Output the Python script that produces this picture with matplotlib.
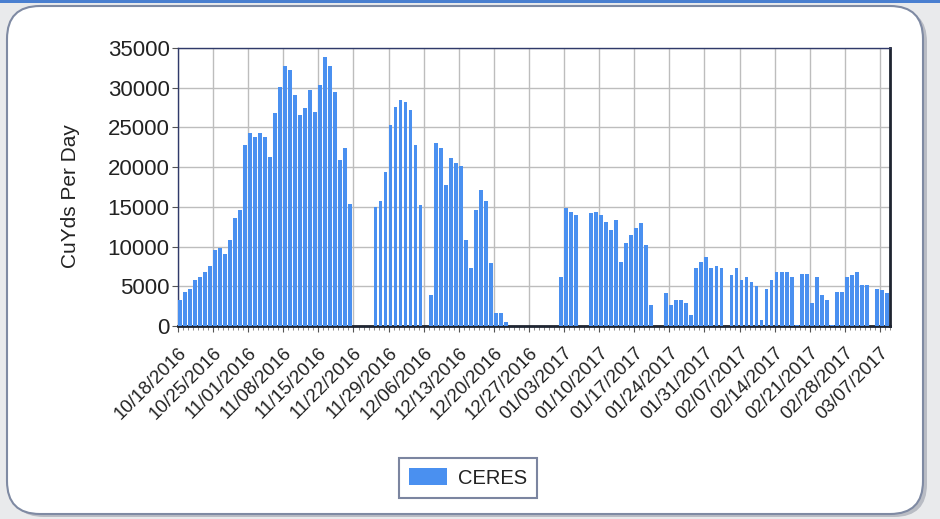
import matplotlib
matplotlib.use("Agg")
import matplotlib.pyplot as plt
from matplotlib.patches import FancyBboxPatch, Rectangle
import numpy as np

plt.rcParams['font.family'] = ['Liberation Sans', 'DejaVu Sans']

# Daily values starting 10/18/2016 (CuYds per day)
week_labels = ["10/18/2016", "10/25/2016", "11/01/2016", "11/08/2016", "11/15/2016",
               "11/22/2016", "11/29/2016", "12/06/2016", "12/13/2016", "12/20/2016",
               "12/27/2016", "01/03/2017", "01/10/2017", "01/17/2017", "01/24/2017",
               "01/31/2017", "02/07/2017", "02/14/2017", "02/21/2017", "02/28/2017",
               "03/07/2017"]

ceres = [
    # 10/18 - 10/24
    3300, 4300, 4700, 5800, 6200, 6800, 7500,
    # 10/25 - 10/31
    9600, 9800, 9100, 10800, 13600, 14600, 22800,
    # 11/01 - 11/07
    24300, 23800, 24300, 23800, 21300, 26800, 30100,
    # 11/08 - 11/14
    32700, 32200, 29100, 26600, 27400, 29700, 27000,
    # 11/15 - 11/21
    30300, 33900, 32700, 29500, 20900, 22400, 15400,
    # 11/22 - 11/28
    0, 0, 0, 0, 15000, 15700, 19400,
    # 11/29 - 12/05
    25300, 27600, 28500, 28200, 27200, 22800, 15200,
    # 12/06 - 12/12
    0, 3900, 23000, 22400, 17800, 21100, 20500,
    # 12/13 - 12/19
    20100, 10800, 7300, 14600, 17100, 15700, 7900,
    # 12/20 - 12/26
    1600, 1600, 550, 0, 0, 0, 0,
    # 12/27 - 01/02
    0, 0, 0, 0, 0, 0, 6200,
    # 01/03 - 01/09
    14800, 14400, 14000, 0, 0, 14200, 14300,
    # 01/10 - 01/16
    14000, 13100, 12100, 13300, 8100, 10400, 11500,
    # 01/17 - 01/23
    12300, 13000, 10200, 2600, 0, 0, 4100,
    # 01/24 - 01/30
    2600, 3300, 3300, 2900, 1400, 7300, 8100,
    # 01/31 - 02/06
    8700, 7300, 7500, 7300, 0, 6400, 7300,
    # 02/07 - 02/13
    5800, 6200, 5600, 5000, 800, 4700, 5800,
    # 02/14 - 02/20
    6800, 6800, 6800, 6200, 100, 6600, 6600,
    # 02/21 - 02/27
    2900, 6200, 3900, 3300, 100, 4300, 4300,
    # 02/28 - 03/06
    6200, 6400, 6800, 5200, 5200, 0, 4700,
    # 03/07 - 03/08
    4500, 4100,
]

yticks = [0, 5000, 10000, 15000, 20000, 25000, 30000, 35000]

W, H = 940, 519
fig = plt.figure(figsize=(W / 100, H / 100), dpi=100)
fig.patch.set_facecolor('#e9eaec')

# panel background with rounded corners
shadow = FancyBboxPatch((11 / W, 2 / H), 916 / W, 508 / H,
                        boxstyle="round,pad=0,rounding_size=0.035",
                        transform=fig.transFigure, facecolor='#b9bcc4',
                        edgecolor='none', zorder=-2, mutation_aspect=W / H)
fig.patches.append(shadow)
panel = FancyBboxPatch((7 / W, 5 / H), 916 / W, 508 / H,
                       boxstyle="round,pad=0,rounding_size=0.035",
                       transform=fig.transFigure, facecolor='white',
                       edgecolor='#7f8aa3', linewidth=1.5, zorder=-1,
                       mutation_aspect=W / H)
fig.patches.append(panel)
fig.patches.append(Rectangle((0, 1 - 3 / H), 1, 3 / H, transform=fig.transFigure,
                             facecolor='#4a7fd0', edgecolor='none', zorder=-1))

ax = fig.add_axes([178 / W, 1 - 326 / H, (890 - 178) / W, (326 - 48) / H])
ax.set_zorder(2)
ax.set_facecolor('white')

x = np.arange(len(ceres))
ax.bar(x, ceres, width=0.76, align='edge', color='#4a90f0', edgecolor='none',
       zorder=3, label='CERES')

ax.set_xlim(0, len(ceres) - 0.3)
ax.set_ylim(0, 35000)
ax.set_yticks(yticks)
ax.set_yticklabels([str(v) for v in yticks], fontsize=16, color='#222222')
ax.set_xticks(np.arange(0, 7 * len(week_labels), 7))
ax.set_xticklabels(week_labels, rotation=45, ha='right', rotation_mode='anchor',
                   fontsize=13.5, color='#222222')
ax.set_xticks(np.arange(0, len(ceres) + 1), minor=True)
ax.tick_params(axis='x', which='major', length=4, pad=9, color='#555555')
ax.tick_params(axis='x', which='minor', length=3, color='#777777')
ax.tick_params(axis='y', length=4, pad=2, color='#555555')

ax.grid(True, which='major', color='#bdbdbd', linewidth=1.0, zorder=0)
ax.set_axisbelow(True)

for side in ['left', 'top']:
    ax.spines[side].set_color('#303a6a')
    ax.spines[side].set_linewidth(1.0)
for side in ['right', 'bottom']:
    ax.spines[side].set_color('#1e2430')
    ax.spines[side].set_linewidth(2.0)

fig.text(70 / W, 1 - 196 / H, 'CuYds Per Day', rotation=90, ha='center',
         va='center', fontsize=15, color='#222222')

leg = fig.legend(loc='center', bbox_to_anchor=(468 / W, 1 - 478 / H),
                 fontsize=14.5, frameon=True, fancybox=False, shadow=False,
                 handlelength=1.9, handleheight=0.85, borderpad=0.5,
                 handletextpad=0.55, borderaxespad=0)
leg.get_frame().set_edgecolor('#5a6788')
leg.get_frame().set_linewidth(1.5)
leg.set_zorder(3)
for t in leg.get_texts():
    t.set_color('#222222')

# widen the legend frame a little on both sides, as in the reference
fig.canvas.draw()
bb = leg.get_window_extent()
frame = leg.get_frame()
frame.set_bounds(bb.x0 - 9, bb.y0, bb.width + 18, bb.height)

fig.savefig('out.png', dpi=100, facecolor=fig.get_facecolor())
